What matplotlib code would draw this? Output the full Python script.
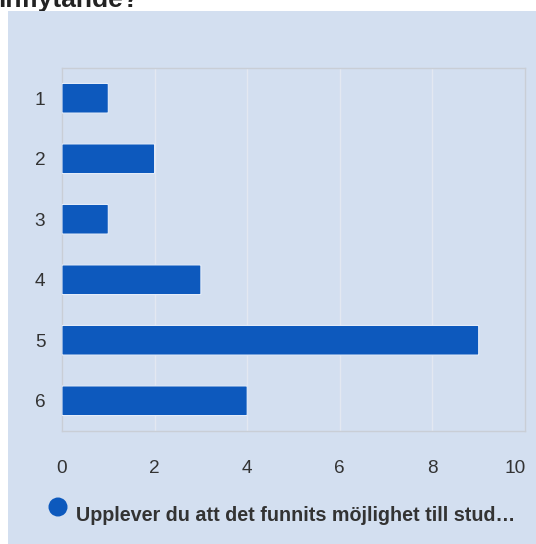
import matplotlib.pyplot as plt
import matplotlib.transforms as mtransforms
from matplotlib.patches import Rectangle, FancyBboxPatch, Circle

plt.rcParams['font.family'] = ['Liberation Sans', 'DejaVu Sans']

kategorier = ['1', '2', '3', '4', '5', '6']
antal = [1, 2, 1, 3, 9, 4]
x_ticks = [0, 2, 4, 6, 8, 10]
serie_namn = 'Upplever du att det funnits möjlighet till stud…'

W, H = 536, 544
fig = plt.figure(figsize=(W / 100, H / 100), dpi=100)
fig.patch.set_facecolor('white')

# bakgrundsaxel i pixelkoordinater
bg = fig.add_axes([0, 0, 1, 1], zorder=-1)
bg.set_xlim(0, W)
bg.set_ylim(H, 0)
bg.axis('off')
bg.add_patch(Rectangle((8, 11), W, H, facecolor='#d3dff0', edgecolor='none', zorder=2))

# avklippt rubrik (bara nedre delen syns)
bg.text(-2, 7, 'inflytande?', fontsize=19, fontweight='bold',
        color='#222222', va='baseline', ha='left', zorder=1)

# legend
bg.add_patch(Circle((58, 507), 9.5, facecolor='#0d59bd', edgecolor='none', zorder=3))
bg.text(76, 521, serie_namn, fontsize=14.2, fontweight='bold',
        color='#333333', va='baseline', ha='left', zorder=3)

ax = fig.add_axes([62 / W, 1 - 431 / H, (525 - 62) / W, (431 - 68) / H])
ax.set_facecolor('#d3dff0')
ax.set_xlim(0, 10)
ax.set_ylim(len(kategorier) - 0.5, -0.5)

for i, v in enumerate(antal):
    bar = FancyBboxPatch((0, i - 0.245), v, 0.49,
                         boxstyle='round,pad=0,rounding_size=0.04',
                         mutation_aspect=1 / 8,
                         facecolor='#0d59bd', edgecolor='#e6eefa', linewidth=0.8,
                         zorder=3)
    ax.add_patch(bar)

ax.set_xticks(x_ticks)
ax.set_yticks(range(len(kategorier)))
ax.set_yticklabels(kategorier)
ax.grid(axis='x', color='#e3e8f1', linewidth=1, zorder=1)
ax.set_axisbelow(True)
ax.tick_params(length=0, labelsize=13.7, colors='#333333')
ax.tick_params(axis='x', pad=21)
ax.tick_params(axis='y', pad=12)
for s in ax.spines.values():
    s.set_color('#c9ced6')
    s.set_linewidth(1)

# sista etiketten flyttas in så att den ryms
sista = ax.get_xticklabels()[-1]
sista.set_transform(sista.get_transform() +
                    mtransforms.ScaledTranslation(-0.1, 0, fig.dpi_scale_trans))

fig.savefig('out.png', dpi=100, facecolor='white')
